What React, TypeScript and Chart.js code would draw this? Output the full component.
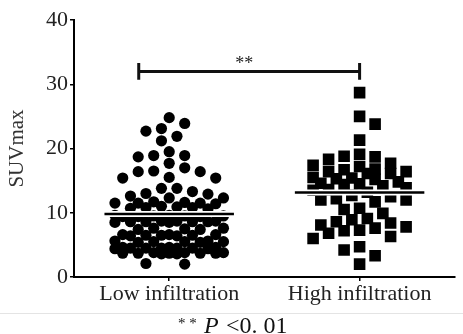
import React, { useEffect, useRef } from "react";
import { Chart, registerables } from "chart.js";

Chart.register(...registerables);

const categories = ["Low infiltration", "High infiltration"];

const lowValues = [
  24.8, 23.9, 23.1, 22.7, 21.9, 21.2, 19.5, 18.9, 18.9, 18.7, 17.7, 17.0, 16.5,
  16.4, 16.4, 15.5, 15.4, 15.4, 13.8, 13.8, 13.3, 13.0, 12.9, 12.6, 12.3, 12.3,
  11.7, 11.5, 11.5, 11.4, 11.6, 11.5,
  10.9, 10.8, 10.7, 10.6, 10.8, 11.0,
  9.6, 9.4, 9.5, 9.5, 9.6, 9.5, 9.4, 9.4,
  8.7, 8.6, 8.6, 8.5, 8.7, 8.6, 8.5, 8.7, 8.6,
  7.6, 7.4, 7.5, 7.6, 7.4,
  6.6, 6.5, 6.5, 6.4, 6.6, 6.5, 6.6, 6.4,
  5.6, 5.4, 5.5, 5.5, 5.6, 5.5, 5.4,
  4.6, 4.5, 4.5, 4.4, 4.6, 4.5, 4.4, 4.5, 4.6, 4.5,
  3.7, 3.7, 3.8, 3.6, 3.7, 3.7, 3.8, 3.6, 3.7, 3.8,
  2.1, 2.0,
];

const highValues = [
  28.7, 25.0, 23.8, 21.3, 19.1, 18.7, 18.3, 18.8, 17.2, 17.4, 17.7, 16.7, 16.4,
  16.1, 16.1, 16.4, 16.8, 15.3, 15.4, 15.5, 15.2, 14.8, 14.6, 14.5, 14.4, 14.2,
  13.9, 13.6, 13.5, 13.2, 12.7, 12.5, 12.2, 12.0, 12.0, 11.7, 10.7, 10.5, 9.9,
  9.1, 8.9, 8.6, 8.4, 8.1, 7.8, 7.6, 7.3, 7.2, 6.8, 6.3, 6.0, 4.7, 4.2, 3.3, 2.0,
];

const yTicks = [0, 10, 20, 30, 40];
const yTitle = "SUVmax";
const significanceLabel = "**";
const significanceY = 32;
const significanceFrom = -0.16;
const significanceTo = 1;
const significanceCap = 1.3;
const meanHalfWidth = 0.34;
const captionParts = ["* *", "P", "<0. 01"];

const mean = (a: number[]) => a.reduce((s, v) => s + v, 0) / a.length;

// beeswarm layout: nearest free slot; when the column is full, take the least-crowded slot
function swarm(values: number[], yPix: (v: number) => number, step: number, minDist: number, maxK: number): number[] {
  const order = values.map((_, i) => i).sort((a, b) => values[b] - values[a]);
  const placed: { x: number; y: number }[] = [];
  const offsets = new Array(values.length).fill(0);
  let flip = 1;
  const minD = (x: number, y: number) =>
    placed.reduce((m, p) => Math.min(m, Math.hypot(p.x - x, p.y - y)), Infinity);
  for (const i of order) {
    const y = yPix(values[i]);
    let chosen: number | null = null;
    let bestX = 0;
    let bestD = -1;
    for (let k = 0; k <= maxK && chosen === null; k++) {
      const cands = k === 0 ? [0] : flip > 0 ? [k, -k] : [-k, k];
      for (const c of cands) {
        const x = c * step;
        const d = minD(x, y);
        if (d >= minDist) {
          chosen = x;
          break;
        }
        if (d > bestD + 0.01) {
          bestD = d;
          bestX = x;
        }
      }
    }
    const x = chosen === null ? bestX : chosen;
    offsets[i] = x;
    placed.push({ x, y });
    if (x !== 0) flip = -flip;
  }
  return offsets;
}

const SERIF = '"Liberation Serif", "Times New Roman", serif';

const annotationPlugin = {
  id: "annotationPlugin",
  afterDatasetsDraw(chart: any) {
    const { ctx } = chart;
    const x = chart.scales.x;
    const y = chart.scales.y;
    const x0 = x.getPixelForValue(significanceFrom);
    const x1 = x.getPixelForValue(significanceTo);
    const yb = y.getPixelForValue(significanceY);
    const capT = y.getPixelForValue(significanceY + significanceCap);
    const capB = y.getPixelForValue(significanceY - significanceCap);
    ctx.save();
    ctx.strokeStyle = "#111";
    ctx.lineWidth = 3;
    ctx.beginPath();
    ctx.moveTo(x0, yb);
    ctx.lineTo(x1, yb);
    ctx.stroke();
    ctx.beginPath();
    ctx.moveTo(x0, capT);
    ctx.lineTo(x0, capB);
    ctx.moveTo(x1, capT);
    ctx.lineTo(x1, capB);
    ctx.stroke();
    ctx.font = `18px ${SERIF}`;
    ctx.fillStyle = "#222";
    ctx.textAlign = "center";
    ctx.textBaseline = "alphabetic";
    ctx.fillText(significanceLabel, (x0 + x1) / 2 - 5, yb - 2);
    ctx.restore();
  },
  afterDraw(chart: any) {
    const { ctx } = chart;
    ctx.save();
    ctx.strokeStyle = "#e4e4e4";
    ctx.lineWidth = 1;
    ctx.beginPath();
    ctx.moveTo(0, 313.5);
    ctx.lineTo(463, 313.5);
    ctx.stroke();
    ctx.fillStyle = "#111";
    ctx.textBaseline = "alphabetic";
    ctx.textAlign = "left";
    ctx.font = `15px ${SERIF}`;
    ctx.fillText(captionParts[0], 178, 328);
    ctx.font = `italic 24px ${SERIF}`;
    ctx.fillText(captionParts[1], 204, 333);
    ctx.font = `24px ${SERIF}`;
    ctx.fillText(captionParts[2], 226, 333);
    ctx.restore();
  },
};

const meanLine = (center: number, m: number, color: string, width: number) => ({
  data: [
    { x: center - meanHalfWidth, y: m },
    { x: center + meanHalfWidth, y: m },
  ],
  showLine: true,
  borderColor: color,
  borderWidth: width,
  pointRadius: 0,
});

export default function App() {
  const ref = useRef<HTMLCanvasElement | null>(null);
  useEffect(() => {
    if (!ref.current) return;
    const lowMean = mean(lowValues);
    const highMean = mean(highValues);
    const chart = new Chart(ref.current, {
      type: "scatter",
      data: {
        datasets: [
          meanLine(0, lowMean, "#000", 2.5),
          meanLine(1, highMean, "#000", 2.5),
          meanLine(0, lowMean, "#fff", 6),
          meanLine(1, highMean, "#fff", 6),
          {
            label: categories[0],
            data: lowValues.map((v) => ({ x: 0, y: v })),
            pointStyle: "circle",
            pointRadius: 5.6,
            pointBorderWidth: 0,
            backgroundColor: "#000",
            borderColor: "#000",
          },
          {
            label: categories[1],
            data: highValues.map((v) => ({ x: 1, y: v })),
            pointStyle: "rect",
            pointRadius: 8.2,
            pointBorderWidth: 0,
            backgroundColor: "#000",
            borderColor: "#000",
          },
        ] as any,
      },
      options: {
        animation: false,
        responsive: false,
        devicePixelRatio: 1,
        layout: { padding: { left: 0, right: 8, top: 20, bottom: 0 } },
        plugins: { legend: { display: false }, tooltip: { enabled: false } },
        scales: {
          x: {
            type: "linear",
            min: -0.5,
            max: 1.5,
            afterBuildTicks: (scale: any) => {
              scale.ticks = categories.map((_, i) => ({ value: i }));
            },
            afterFit: (scale: any) => {
              scale.height = 57;
            },
            ticks: {
              callback: (v: any) => categories[v] ?? "",
              font: { family: SERIF, size: 22 },
              color: "#222",
              padding: 0,
              maxRotation: 0,
              autoSkip: false,
            },
            grid: {
              display: true,
              drawOnChartArea: false,
              drawTicks: true,
              tickLength: 4,
              color: "#000",
              lineWidth: 1.5,
            },
            border: { display: true, color: "#000", width: 2 },
          },
          y: {
            type: "linear",
            min: yTicks[0],
            max: yTicks[yTicks.length - 1],
            afterBuildTicks: (scale: any) => {
              scale.ticks = yTicks.map((v) => ({ value: v }));
            },
            afterFit: (scale: any) => {
              scale.width = 74;
            },
            ticks: {
              font: { family: SERIF, size: 22 },
              color: "#222",
              padding: 2,
            },
            title: {
              display: true,
              text: yTitle,
              font: { family: SERIF, size: 21 },
              color: "#333",
              padding: { top: 5, bottom: 0 },
            },
            grid: {
              display: true,
              drawOnChartArea: false,
              drawTicks: true,
              tickLength: 4,
              color: "#000",
              lineWidth: 1.5,
            },
            border: { display: true, color: "#000", width: 2 },
          },
        },
      } as any,
      plugins: [annotationPlugin],
    });

    const ys = chart.scales.y as any;
    const xs = chart.scales.x as any;
    const pxPerUnit = xs.getPixelForValue(1) - xs.getPixelForValue(0);
    const yPix = (v: number) => ys.getPixelForValue(v);
    const lowOff = swarm(lowValues, yPix, 7.75, 11, 7);
    const highOff = swarm(highValues, yPix, 7.75, 12, 6);
    chart.data.datasets[4].data = lowValues.map((v, i) => ({ x: lowOff[i] / pxPerUnit, y: v }));
    chart.data.datasets[5].data = highValues.map((v, i) => ({ x: 1 + highOff[i] / pxPerUnit, y: v }));
    chart.update();

    return () => chart.destroy();
  }, []);

  return (
    <div style={{ position: "fixed", left: 0, top: 0, width: 463, height: 334, background: "#fff" }}>
      <canvas ref={ref} width={463} height={334} style={{ display: "block" }} />
    </div>
  );
}
